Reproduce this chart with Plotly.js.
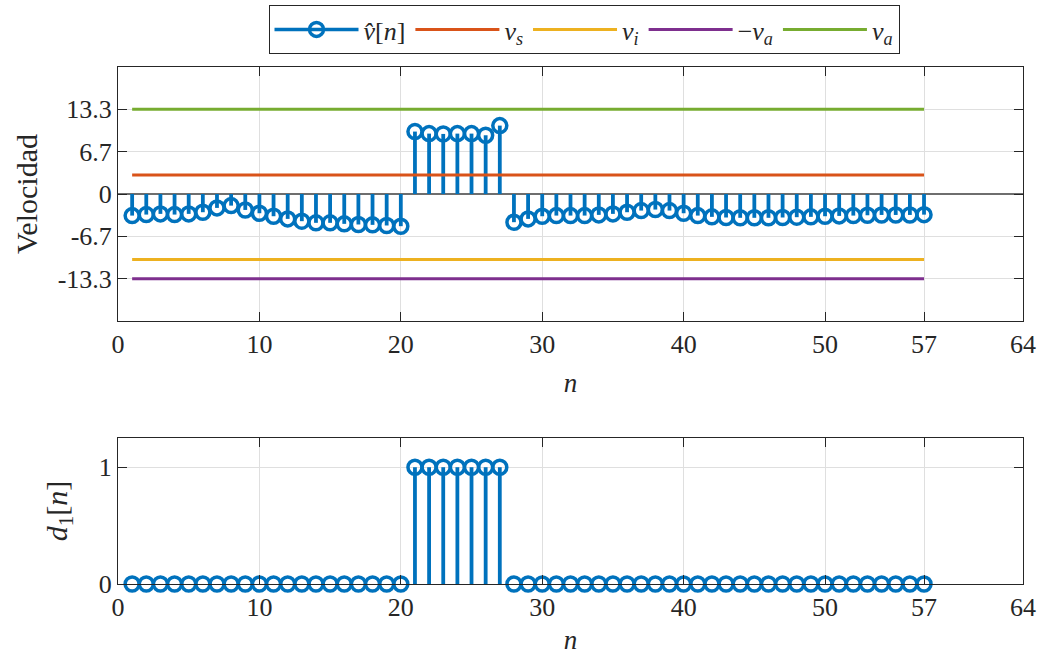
<!DOCTYPE html>
<html>
<head>
<meta charset="utf-8">
<script src="https://cdn.plot.ly/plotly-3.0.1.min.js"></script>
<style>
  html, body { margin: 0; padding: 0; background: #ffffff; }
  #chart { width: 1041px; height: 659px; }
</style>
</head>
<body>
<div id="chart"></div>
<script>
// Sample index
const n = [1,2,3,4,5,6,7,8,9,10,11,12,13,14,15,16,17,18,19,20,
           21,22,23,24,25,26,27,28,29,30,31,32,33,34,35,36,37,38,39,40,
           41,42,43,44,45,46,47,48,49,50,51,52,53,54,55,56,57];

// Estimated velocity v^[n]
const vHat = [-3.4,-3.24,-3.13,-3.24,-3.13,-2.87,-2.19,-1.83,-2.51,-3.03,
              -3.5,-3.92,-4.28,-4.54,-4.54,-4.7,-4.8,-4.86,-4.96,-5.07,
              9.83,9.51,9.46,9.51,9.51,9.25,10.77,
              -4.44,-3.92,-3.5,-3.4,-3.4,-3.4,-3.29,-3.13,-2.87,-2.61,-2.45,-2.61,-3.03,
              -3.4,-3.6,-3.7,-3.75,-3.75,-3.75,-3.7,-3.65,-3.6,-3.5,
              -3.45,-3.4,-3.35,-3.3,-3.3,-3.3,-3.25];

// Detection flag d1[n]
const d1 = [0,0,0,0,0,0,0,0,0,0,0,0,0,0,0,0,0,0,0,0,
            1,1,1,1,1,1,1,
            0,0,0,0,0,0,0,0,0,0,0,0,0,0,0,0,0,0,0,0,0,0,0,0,0,0,0,0,0,0,0];

// Thresholds
const vS = 3.0;
const vI = -10.3;
const vA = 13.33;
const nSpan = [1, 57];

// Tick marks
const xTickVals = [0, 10, 20, 30, 40, 50, 57, 64];
const yTickVals = [13.333, 6.667, 0, -6.667, -13.333];
const yTickText = ['13.3', '6.7', '0', '-6.7', '-13.3'];
const dTickVals = [0, 1];

const BLUE = '#0072BD', ORANGE = '#D95319', YELLOW = '#EDB120',
      PURPLE = '#7E2F8E', GREEN = '#77AC30';
const AX = '#262626', GRID = '#dfdfdf';
const FONT = 'Liberation Serif';

// vertical stems from the baseline to each sample
function stemPath(xs, ys) {
  const sx = [], sy = [];
  xs.forEach((x, i) => { sx.push(x, x, null); sy.push(0, ys[i], null); });
  return { x: sx, y: sy };
}

const stemTop = stemPath(n, vHat);
const stemBot = stemPath(n, d1);

const markerStyle = { symbol: 'circle-open', size: 14, color: BLUE, line: { width: 3.5, color: BLUE } };

const traces = [
  // legend entry for the stem series
  { x: [null], y: [null], mode: 'lines+markers', name: '<i>v\u0302</i>[<i>n</i>]',
    line: { color: BLUE, width: 3.5 }, marker: markerStyle, xaxis: 'x', yaxis: 'y', showlegend: true },
  { x: stemTop.x, y: stemTop.y, mode: 'lines', line: { color: BLUE, width: 3.8 },
    xaxis: 'x', yaxis: 'y', showlegend: false, hoverinfo: 'skip' },
  { x: n, y: vHat, mode: 'markers', marker: markerStyle, xaxis: 'x', yaxis: 'y',
    showlegend: false, cliponaxis: false },
  { x: nSpan, y: [vS, vS], mode: 'lines', name: '<i>v</i><sub><i>s</i></sub>',
    line: { color: ORANGE, width: 3 }, xaxis: 'x', yaxis: 'y' },
  { x: nSpan, y: [vI, vI], mode: 'lines', name: '<i>v</i><sub><i>i</i></sub>',
    line: { color: YELLOW, width: 3 }, xaxis: 'x', yaxis: 'y' },
  { x: nSpan, y: [-vA, -vA], mode: 'lines', name: '\u2212<i>v</i><sub><i>a</i></sub>',
    line: { color: PURPLE, width: 3 }, xaxis: 'x', yaxis: 'y' },
  { x: nSpan, y: [vA, vA], mode: 'lines', name: '<i>v</i><sub><i>a</i></sub>',
    line: { color: GREEN, width: 3 }, xaxis: 'x', yaxis: 'y' },
  // lower panel
  { x: stemBot.x, y: stemBot.y, mode: 'lines', line: { color: BLUE, width: 3.8 },
    xaxis: 'x2', yaxis: 'y2', showlegend: false, hoverinfo: 'skip' },
  { x: n, y: d1, mode: 'markers', marker: markerStyle, xaxis: 'x2', yaxis: 'y2',
    showlegend: false, cliponaxis: false }
];

const W = 1041, H = 659;
const xDom = [118 / W, 1023 / W];

function xAxis(anchor, standoff) {
  return {
    domain: xDom, anchor: anchor, range: [0, 64], tickvals: xTickVals,
    ticks: 'inside', ticklen: 9, tickwidth: 1, tickcolor: AX,
    showline: true, linecolor: AX, linewidth: 1, mirror: 'ticks',
    showgrid: true, gridcolor: GRID, gridwidth: 1, zeroline: false,
    tickfont: { family: FONT, size: 26, color: AX },
    title: { text: '<i>n</i>', font: { family: FONT, size: 27, color: AX }, standoff: standoff },
    automargin: false, fixedrange: true
  };
}

const layout = {
  width: W, height: H,
  margin: { l: 0, r: 0, t: 0, b: 0 },
  paper_bgcolor: '#ffffff', plot_bgcolor: '#ffffff',
  font: { family: FONT, size: 26, color: AX },
  showlegend: true,
  legend: {
    orientation: 'h', x: 584 / W, xanchor: 'center', y: 1 - 5 / H, yanchor: 'top',
    bgcolor: '#ffffff', bordercolor: AX, borderwidth: 1,
    font: { family: FONT, size: 26, color: AX },
    itemwidth: 84
  },
  xaxis: xAxis('y', 14),
  yaxis: {
    domain: [(H - 321) / H, (H - 67) / H], anchor: 'x', range: [-20, 20],
    tickvals: yTickVals, ticktext: yTickText,
    ticks: 'inside', ticklen: 9, tickwidth: 1, tickcolor: AX,
    showline: true, linecolor: AX, linewidth: 1, mirror: 'ticks',
    showgrid: true, gridcolor: GRID, gridwidth: 1,
    zeroline: true, zerolinecolor: '#6e6e6e', zerolinewidth: 1.5,
    tickfont: { family: FONT, size: 26, color: AX },
    title: { text: 'Velocidad', font: { family: FONT, size: 30, color: AX }, standoff: 11 },
    automargin: false, fixedrange: true
  },
  xaxis2: xAxis('y2', 8),
  yaxis2: {
    domain: [(H - 584) / H, (H - 438) / H], anchor: 'x2', range: [0, 1.25],
    tickvals: dTickVals,
    ticks: 'inside', ticklen: 9, tickwidth: 1, tickcolor: AX,
    showline: true, linecolor: AX, linewidth: 1, mirror: 'ticks',
    showgrid: true, gridcolor: GRID, gridwidth: 1, zeroline: false,
    tickfont: { family: FONT, size: 26, color: AX },
    title: { text: '<i>d</i><sub>1</sub>[<i>n</i>]', font: { family: FONT, size: 30, color: AX }, standoff: 22 },
    automargin: false, fixedrange: true
  }
};

Plotly.newPlot('chart', traces, layout, { displayModeBar: false, staticPlot: true });
</script>
</body>
</html>
